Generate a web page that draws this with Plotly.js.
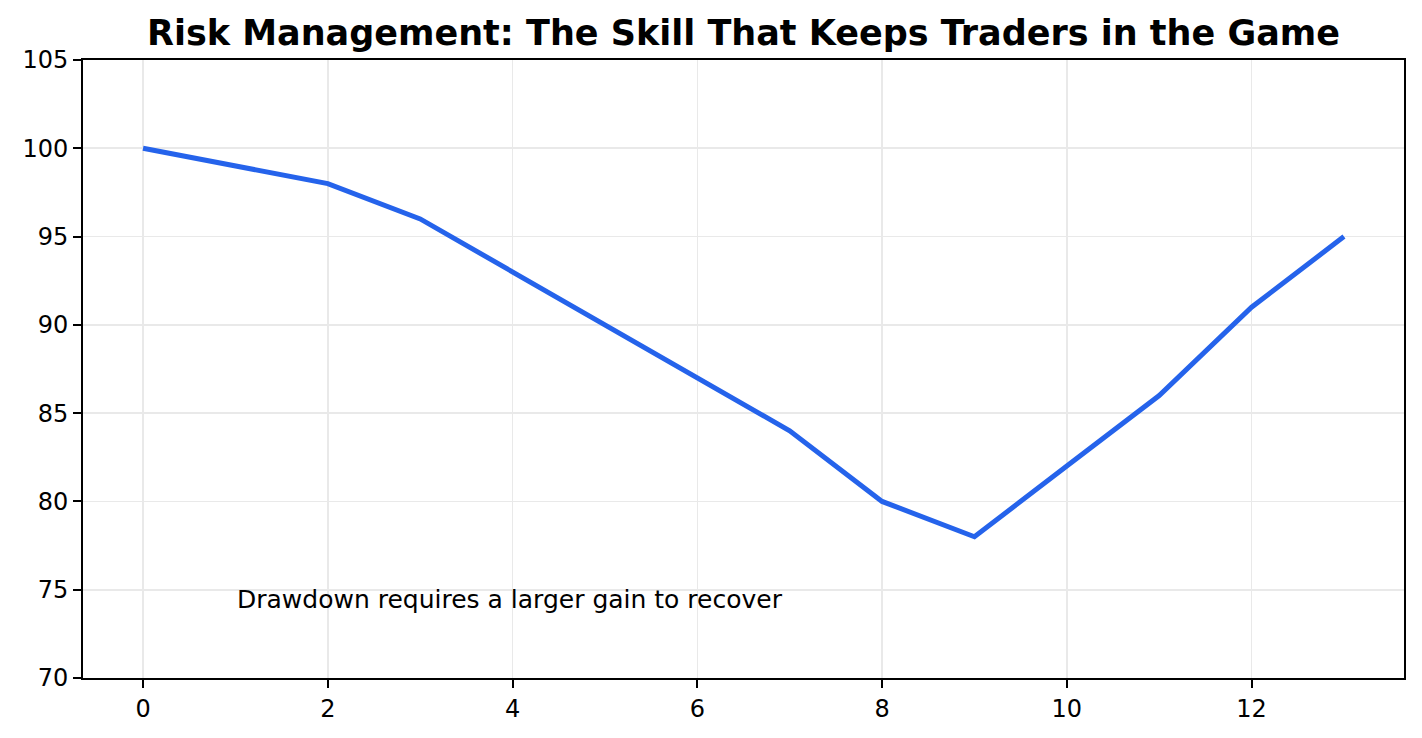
<!DOCTYPE html>
<html>
<head>
<meta charset="utf-8">
<script src="https://cdn.plot.ly/plotly-3.0.1.min.js"></script>
<style>html,body{margin:0;padding:0;background:#fff;}#chart{width:1422px;height:738px;}</style>
</head>
<body>
<div id="chart"></div>
<script>
const steps = [0,1,2,3,4,5,6,7,8,9,10,11,12,13];
const equity = [100,99,98,96,93,90,87,84,80,78,82,86,91,95];
const yTicks = [70,75,80,85,90,95,100,105];
const xTicks = [0,2,4,6,8,10,12];
const titleText = "Risk Management: The Skill That Keeps Traders in the Game";
const noteText = "Drawdown requires a larger gain to recover";
const noteX = 1, noteY = 74;

const font = "DejaVu Sans, sans-serif";
const axisCommon = {
  showline: true, linecolor: "#000", linewidth: 2, mirror: true,
  ticks: "outside", ticklen: 8, tickwidth: 2, tickcolor: "#000",
  showgrid: true, gridcolor: "#e9e9e9", gridwidth: 1.6,
  zeroline: false,
  tickfont: {family: font, size: 24, color: "#000"}
};
const layout = {
  width: 1422, height: 738,
  paper_bgcolor: "#fff", plot_bgcolor: "#fff",
  margin: {l: 83, r: 18, t: 60, b: 60},
  showlegend: false,
  title: {text: "<b>" + titleText + "</b>", font: {family: font, size: 35, color: "#000"},
          x: 0.5, xref: "paper", xanchor: "center", y: 1 - 33/738, yref: "container", yanchor: "middle"},
  xaxis: Object.assign({}, axisCommon, {range: [-0.65, 13.65], tickvals: xTicks, ticktext: xTicks.map(String)}),
  yaxis: Object.assign({}, axisCommon, {range: [70, 105], tickvals: yTicks, ticktext: yTicks.map(String)}),
  annotations: [{
    x: noteX, y: noteY, xref: "x", yref: "y", text: noteText, showarrow: false,
    xanchor: "left", yanchor: "bottom", yshift: -9,
    font: {family: font, size: 25, color: "#000"}
  }]
};
const trace = {
  x: steps, y: equity, type: "scatter", mode: "lines",
  line: {color: "#2563eb", width: 5}
};
Plotly.newPlot("chart", [trace], layout, {displayModeBar: false, staticPlot: true});
</script>
</body>
</html>
